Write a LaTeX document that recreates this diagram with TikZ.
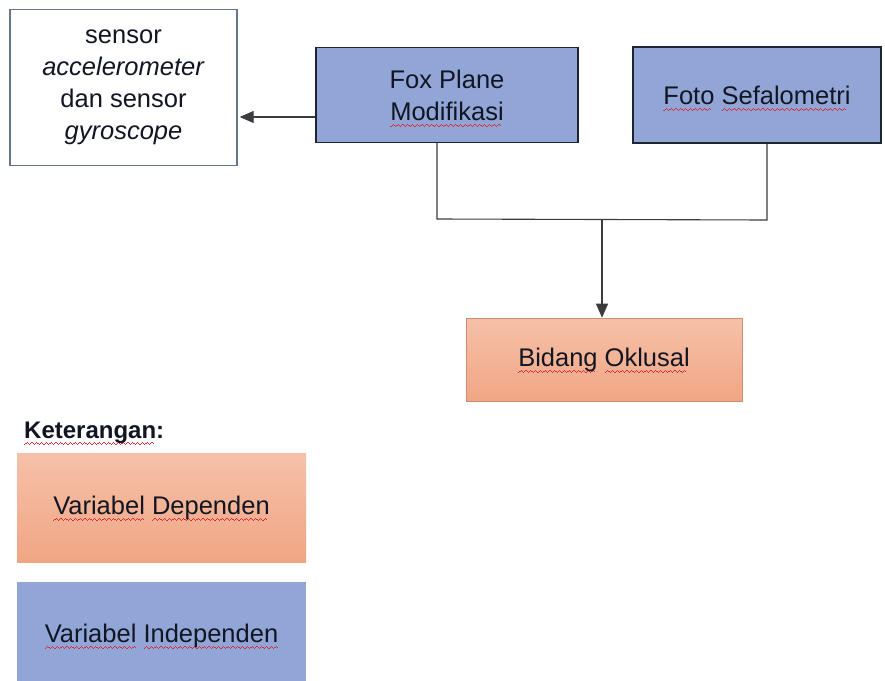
\documentclass[tikz,border=0pt]{standalone}
\usepackage{fontspec}
\setmainfont{Liberation Sans}
\usetikzlibrary{arrows.meta,calc}
\definecolor{bluefill}{RGB}{145,165,214}
\definecolor{salmontop}{RGB}{246,192,168}
\definecolor{salmonbot}{RGB}{240,166,132}
\definecolor{boxedge}{RGB}{30,36,50}
\definecolor{sensedge}{RGB}{105,118,138}
\definecolor{txt}{RGB}{18,22,34}
\definecolor{linecol}{RGB}{60,60,64}
\definecolor{squig}{RGB}{215,45,60}
\newcommand\wavecell{\hbox{\rule[0pt]{1.2pt}{1pt}\rule[0.9pt]{1.2pt}{1pt}\rule[1.8pt]{1.2pt}{1pt}\rule[0.9pt]{1.2pt}{1pt}}}
\newcommand\sq[1]{\leavevmode\setbox0\hbox{#1}%
  \rlap{\raisebox{-6.5pt}[0pt][0pt]{\hbox to \wd0{\color{squig}\leaders\wavecell\hfill}}}\box0\relax}
\begin{document}
\begin{tikzpicture}[x=1pt,y=-1pt,
  font=\fontsize{25.5}{32}\selectfont, text=txt,
  indepbox/.style={draw=boxedge, line width=1.4pt, fill=bluefill, align=center, inner sep=0pt},
  sensbox/.style={draw=sensedge, line width=1.4pt, fill=white, align=center, inner sep=0pt},
  depbox/.style={draw=salmonbot!85!black, line width=0.6pt, top color=salmontop, bottom color=salmonbot, align=center, inner sep=0pt},
  legdep/.style={draw=none, top color=salmontop, bottom color=salmonbot, align=center, inner sep=0pt},
  legindep/.style={draw=none, fill=bluefill, align=center, inner sep=0pt},
  conn/.style={draw=linecol, line width=1.1pt},
  tip/.style={-{Triangle[length=14pt,width=12pt]}}]
\useasboundingbox (0,0) rectangle (885,680);
\clip (0,0) rectangle (885,680);

\node[sensbox, minimum width=227pt, minimum height=156pt] (sensor) at (123.5,87.5)
  {sensor\\ \textit{accelerometer}\\ dan sensor\\ \textit{gyroscope}};
\node[indepbox, minimum width=262pt, minimum height=95pt] (fox) at (447,95)
  {Fox Plane\\ \sq{Modifikasi}};
\node[indepbox, minimum width=248pt, minimum height=96pt] (foto) at (757,95)
  {\sq{Foto} \sq{Sefalometri}};
\node[depbox, minimum width=276pt, minimum height=83pt] (bidang) at (604,359.5)
  {\raisebox{-5pt}{\sq{Bidang} \sq{Oklusal}}};

\node[anchor=base west, inner sep=0pt, font=\fontsize{24}{28}\selectfont\bfseries] (ket) at (24,438)
  {\sq{Keterangan}:};
\node[legdep, minimum width=289pt, minimum height=109pt] (dep) at (161.5,507.5)
  {\sq{Variabel} \sq{Dependen}};
\node[legindep, minimum width=289pt, minimum height=108pt] (indep) at (161.5,636)
  {\sq{Variabel} \sq{Independen}};

\coordinate (jl) at (437,219);
\coordinate (jr) at (767,220);
\coordinate (jm) at (602,220);
\coordinate (arr) at (0,117);

\draw[conn] (fox.south -| jl) -- (jl) -- (jr) -- (foto.south -| jr);
\draw[conn, tip] (jm) -- (jm |- bidang.north);
\draw[conn, tip, shorten >=2pt] (fox.west |- arr) -- (sensor.east |- arr);
\end{tikzpicture}
\end{document}
